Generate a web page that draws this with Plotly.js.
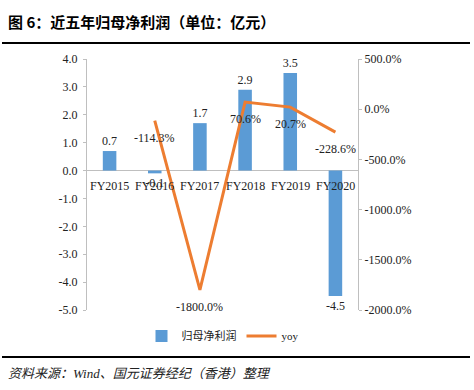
<!DOCTYPE html>
<html><head><meta charset="utf-8">
<script src="https://cdn.plot.ly/plotly-3.0.1.min.js"></script>
<style>body{margin:0;background:#fff}#c{width:474px;height:390px}</style>
</head><body><div id="c"></div>
<script>
var categories = ["FY2015","FY2016","FY2017","FY2018","FY2019","FY2020"];
var profit = [0.7, -0.1, 1.7, 2.9, 3.5, -4.5];
var yoyCats = ["FY2016","FY2017","FY2018","FY2019","FY2020"];
var yoy = [-114.3, -1800.0, 70.6, 20.7, -228.6];
var leftTicks = [4,3,2,1,0,-1,-2,-3,-4,-5];
var rightTicks = [500,0,-500,-1000,-1500,-2000];

var serif = "Liberation Serif, Times New Roman, Noto Sans CJK SC, serif";
var W = 474, H = 390, L = 87, R = 116, T = 59, B = 80;
var pw = W - L - R, ph = H - T - B;
function px(x){return (x - L)/pw;}
function py(y){return (H - B - y)/ph;}

var traces = [
 {type:"bar", x:categories, y:profit, name:"归母净利润", width:0.3,
  marker:{color:"#5B9BD5"}, text:profit.map(function(v){return v.toFixed(1);}),
  textposition:"outside", constraintext:"none", cliponaxis:false,
  textfont:{family:serif,size:12,color:"#222"}, hoverinfo:"none"},
 {type:"scatter", mode:"lines", x:yoyCats, y:yoy, yaxis:"y2", name:"yoy",
  line:{color:"#ED7D31", width:3}, hoverinfo:"none"}
];

var ann = categories.map(function(c){
  return {x:c, y:0, xref:"x", yref:"y", text:c, showarrow:false, yshift:-15,
    font:{family:serif,size:12,color:"#222"}};
});
yoy.forEach(function(v, i){
  ann.push({x:yoyCats[i], y:v, xref:"x", yref:"y2", text:v.toFixed(1)+"%", showarrow:false,
    yshift:-17, font:{family:serif,size:12,color:"#222"}});
});
ann.push({xref:"paper", yref:"paper", x:px(6), y:py(22), xanchor:"left", yanchor:"middle",
  text:"<b>图 6：近五年归母净利润（单位：亿元）</b>", showarrow:false,
  font:{family:"Noto Sans CJK SC, serif", size:15, color:"#000"}});
ann.push({xref:"paper", yref:"paper", x:px(6), y:py(373), xanchor:"left", yanchor:"middle",
  text:"<i>资料来源：Wind、国元证券经纪（香港）整理</i>", showarrow:false,
  font:{family:serif, size:13, color:"#222"}});

var layout = {
  width:W, height:H, margin:{l:L, r:R, t:T, b:B},
  paper_bgcolor:"#fff", plot_bgcolor:"#fff", showlegend:true, bargap:0.7,
  xaxis:{type:"category", showticklabels:false, showline:false, showgrid:false, zeroline:false, ticks:"", fixedrange:true},
  yaxis:{range:[-5,4], tickvals:leftTicks, ticktext:leftTicks.map(function(v){return v.toFixed(1);}),
    showline:true, linecolor:"#bfbfbf", linewidth:1, ticks:"outside", ticklen:3, tickcolor:"#bfbfbf",
    showgrid:false, zeroline:true, zerolinecolor:"#bfbfbf", zerolinewidth:1,
    tickfont:{family:serif,size:12,color:"#222"}, ticklabelstandoff:3},
  yaxis2:{overlaying:"y", side:"right", range:[-2000,500], tickvals:rightTicks,
    ticktext:rightTicks.map(function(v){return v.toFixed(1)+"%";}),
    showline:true, linecolor:"#bfbfbf", linewidth:1, ticks:"outside", ticklen:3, tickcolor:"#bfbfbf",
    showgrid:false, zeroline:false, tickfont:{family:serif,size:12,color:"#222"}},
  legend:{orientation:"h", x:0.5, xanchor:"center", y:py(336), yanchor:"middle",
    font:{family:serif,size:11,color:"#222"}, itemwidth:30, tracegroupgap:0},
  annotations:ann,
  shapes:[
    {type:"line", xref:"paper", yref:"paper", x0:px(2), x1:px(470), y0:py(43), y1:py(43), line:{color:"#000", width:2}},
    {type:"line", xref:"paper", yref:"paper", x0:px(2), x1:px(470), y0:py(357), y1:py(357), line:{color:"#000", width:2}}
  ]
};
Plotly.newPlot("c", traces, layout, {displayModeBar:false, staticPlot:true});
</script></body></html>
